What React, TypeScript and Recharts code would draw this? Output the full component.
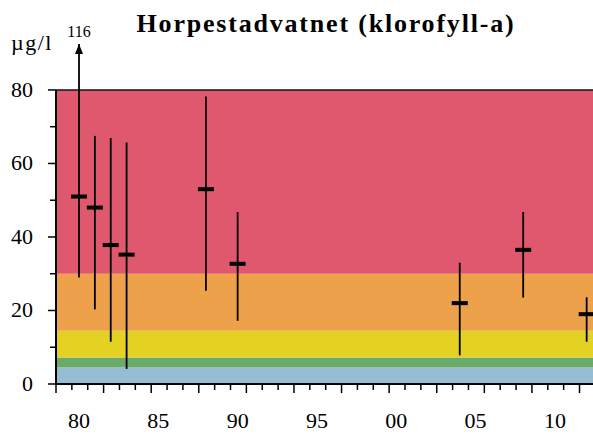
import React from 'react';
import {
  ComposedChart,
  Scatter,
  XAxis,
  YAxis,
  ReferenceArea,
  ReferenceLine,
  ReferenceDot,
} from 'recharts';

// sample years and chlorophyll values (µg/l)
const years = [1980, 1981, 1982, 1983, 1988, 1990, 2004, 2008, 2012];
const means = [51, 48, 37.8, 35.2, 53, 32.7, 22, 36.5, 19];
const lows = [29, 20.3, 11.5, 4.1, 25.4, 17.2, 7.8, 23.5, 11.5];
const highs = [116, 67.5, 66.9, 65.7, 78.2, 46.8, 33, 46.8, 23.6];

// class limits and colours of the background bands
const bandEdges = [0, 4.5, 7.2, 14.5, 30, 80];
const bandColors = ['#97bdd5', '#6aab6b', '#e4d121', '#eda14b', '#e0586d'];

const labelYears = [1980, 1985, 1990, 1995, 2000, 2005, 2010];
const yTicks = [0, 10, 20, 30, 40, 50, 60, 70, 80];
const markYears = Array.from({ length: 34 }, (_, i) => 1978.55 + i);

const X_MIN = 1978.55;
const X_MAX = 2012.4;
const Y_SCALE_MAX = 80;
const Y_TOP = 92.5; // where off-scale arrows end

const serif = { fontFamily: "'Liberation Serif', serif" };

const points = years.map((year, i) => ({ year, mean: means[i], low: lows[i], high: highs[i] }));

const MeanMark = (props: any) => {
  const { cx, cy } = props;
  return <rect x={cx - 8} y={cy - 2} width={16} height={4} fill="#000" />;
};

const YTick = (props: any) => {
  const { x, y, payload } = props;
  const major = payload.value % 20 === 0;
  return (
    <g>
      <line x1={x - (major ? 8 : 6)} x2={x} y1={y} y2={y} stroke="#000" strokeWidth={1.5} />
      {major && (
        <text x={x - 23} y={y + 7} textAnchor="end" fontSize={22} style={serif} fill="#000">
          {payload.value}
        </text>
      )}
    </g>
  );
};

const XTick = (props: any) => {
  const { x, y, payload } = props;
  const v = payload.value;
  if (labelYears.includes(v)) {
    return (
      <text x={x} y={y + 44} textAnchor="middle" fontSize={22} style={serif} fill="#000">
        {String(v % 100).padStart(2, '0')}
      </text>
    );
  }
  const idx = markYears.indexOf(v);
  const long = idx % 3 === 0;
  return <line x1={x} x2={x} y1={y} y2={y + (long ? 9 : 6)} stroke="#000" strokeWidth={1.5} />;
};

const Arrow = (value: number) => (props: any) => {
  const { cx, cy } = props;
  return (
    <g>
      <path d={`M${cx},${cy} L${cx - 4},${cy + 10} L${cx + 4},${cy + 10} Z`} fill="#000" />
      <text x={cx} y={cy - 7} textAnchor="middle" fontSize={16} style={serif} fill="#000">
        {value}
      </text>
    </g>
  );
};

export default function App() {
  return (
    <div style={{ position: 'absolute', left: 0, top: 0, background: '#fff' }}>
      <ComposedChart width={593} height={437} margin={{ top: 44, right: 0, bottom: 0, left: 0 }}>
        <text
          x={326}
          y={32}
          textAnchor="middle"
          fontSize={26}
          fontWeight="bold"
          letterSpacing={1.8}
          style={serif}
          fill="#000"
        >
          Horpestadvatnet (klorofyll-a)
        </text>
        <text x={11} y={50} fontSize={22} letterSpacing={1.5} style={serif} fill="#000">
          µg/l
        </text>
        <XAxis
          type="number"
          dataKey="year"
          domain={[X_MIN, X_MAX]}
          allowDataOverflow
          ticks={[...markYears, ...labelYears]}
          interval={0}
          tick={<XTick />}
          tickLine={false}
          tickSize={0}
          tickMargin={0}
          height={53}
          axisLine={{ stroke: '#000', strokeWidth: 2 }}
        />
        <YAxis
          type="number"
          dataKey="mean"
          domain={[0, Y_TOP]}
          allowDataOverflow
          ticks={yTicks}
          interval={0}
          tick={<YTick />}
          tickLine={false}
          tickSize={0}
          tickMargin={0}
          width={56}
          axisLine={false}
        />
        {bandColors.map((c, i) => (
          <ReferenceArea key={c} y1={bandEdges[i]} y2={bandEdges[i + 1]} fill={c} fillOpacity={1} stroke="none" />
        ))}
        <ReferenceLine y={Y_SCALE_MAX} stroke="#111" strokeWidth={1.5} />
        <ReferenceLine
          segment={[
            { x: X_MIN, y: 0 },
            { x: X_MIN, y: Y_SCALE_MAX },
          ]}
          stroke="#000"
          strokeWidth={2}
        />
        {points.map((p) => (
          <ReferenceLine
            key={p.year}
            segment={[
              { x: p.year, y: p.low },
              { x: p.year, y: Math.min(p.high, Y_TOP) },
            ]}
            stroke="#000"
            strokeWidth={1.8}
          />
        ))}
        {points
          .filter((p) => p.high > Y_SCALE_MAX)
          .map((p) => (
            <ReferenceDot key={'a' + p.year} x={p.year} y={Y_TOP} shape={Arrow(p.high)} />
          ))}
        <Scatter data={points} dataKey="mean" shape={<MeanMark />} isAnimationActive={false} />
      </ComposedChart>
    </div>
  );
}
